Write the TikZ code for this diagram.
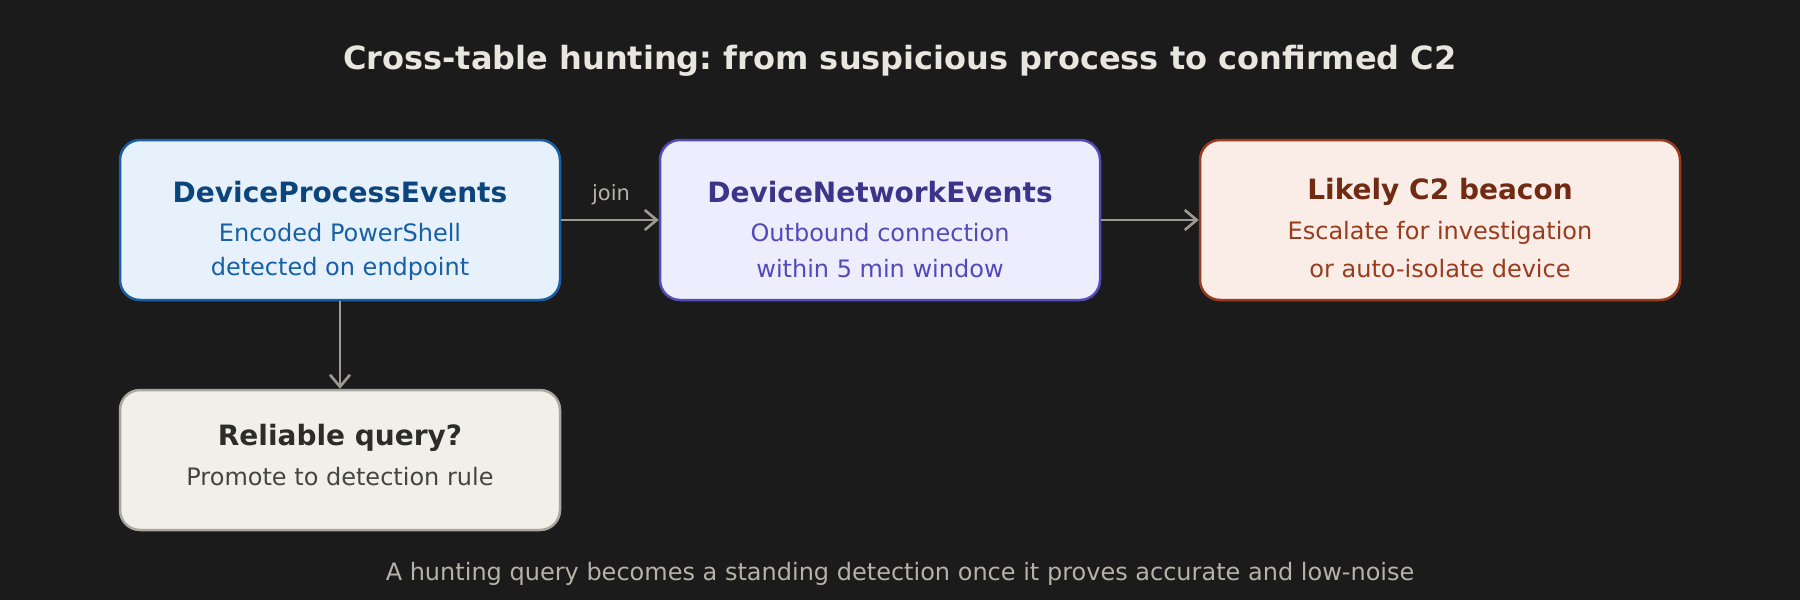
\documentclass[tikz,border=0pt]{standalone}
\usepackage{fontspec}
\setmainfont{DejaVu Sans}
\usetikzlibrary{arrows.meta}
\frenchspacing
\definecolor{bg}{HTML}{1B1B1B}
\definecolor{titlec}{HTML}{E8E6DF}
\definecolor{mutec}{HTML}{B4B2A9}
\definecolor{arrowc}{HTML}{9C9A92}
\definecolor{bfill}{HTML}{E6F1FB}\definecolor{bstroke}{HTML}{185FA5}\definecolor{btitle}{HTML}{0C447C}
\definecolor{pfill}{HTML}{EEEDFE}\definecolor{pstroke}{HTML}{534AB7}\definecolor{ptitle}{HTML}{3C3489}
\definecolor{rfill}{HTML}{FAECE7}\definecolor{rstroke}{HTML}{993C1D}\definecolor{rtitle}{HTML}{712B13}
\definecolor{gfill}{HTML}{F1EFE8}\definecolor{gstroke}{HTML}{A8A69E}\definecolor{gtitle}{HTML}{2C2C2A}\definecolor{gbody}{HTML}{444441}
\tikzset{
  box/.style={draw, line width=2.5pt, rounded corners=20pt},
  hdr/.style={font=\bfseries\fontsize{28}{34}\selectfont},
  bodytxt/.style={font=\fontsize{24}{30}\selectfont},
  conn/.style={draw=arrowc, line width=2.6pt, -{Straight Barb[length=12pt,width=20pt,line width=2.6pt]}},
}
\begin{document}
\begin{tikzpicture}[x=1pt,y=-1pt]
\fill[bg] (0,0) rectangle (1800,600);
\useasboundingbox (0,0) rectangle (1800,600);
\node[font=\bfseries\fontsize{32}{38}\selectfont, text=titlec] (title) at (900,61) {Cross-table hunting: from suspicious process to confirmed C2};
% boxes
\node[box, draw=bstroke, fill=bfill, minimum width=440pt, minimum height=160pt] (b1) at (340,220) {};
\node[box, draw=pstroke, fill=pfill, minimum width=440pt, minimum height=160pt] (b2) at (880,220) {};
\node[box, draw=rstroke, fill=rfill, minimum width=480pt, minimum height=160pt] (b3) at (1440,220) {};
\node[box, draw=gstroke, fill=gfill, minimum width=440pt, minimum height=140pt] (b4) at (340,460) {};
% texts
\node[hdr, text=btitle] (b1t) at (340,192) {DeviceProcessEvents};
\node[bodytxt, text=bstroke] (b1a) at (340,233) {Encoded PowerShell};
\node[bodytxt, text=bstroke] (b1b) at (340,269) {detected on endpoint};
\node[hdr, text=ptitle] (b2t) at (880,192) {DeviceNetworkEvents};
\node[bodytxt, text=pstroke] (b2a) at (880,233) {Outbound connection};
\node[bodytxt, text=pstroke] (b2b) at (880,269) {within 5 min window};
\node[hdr, text=rtitle] (b3t) at (1440,192) {Likely C2 beacon};
\node[bodytxt, text=rstroke] (b3a) at (1440,233) {Escalate for investigation};
\node[bodytxt, text=rstroke] (b3b) at (1440,269) {or auto-isolate device};
\node[hdr, text=gtitle] (b4t) at (340,438) {Reliable query?};
\node[bodytxt, text=gbody] (b4a) at (340,477) {Promote to detection rule};
% connectors
\draw[conn] (b1.east) -- (b2.west);
\node[font=\fontsize{21}{25}\selectfont, text=mutec] (join) at (611,195) {join};
\draw[conn] (b2.east) -- (b3.west);
\draw[conn] (b1.south) -- (b4.north);
\node[font=\fontsize{24}{29}\selectfont, text=mutec] (foot) at (900,574) {A hunting query becomes a standing detection once it proves accurate and low-noise};
\end{tikzpicture}
\end{document}
